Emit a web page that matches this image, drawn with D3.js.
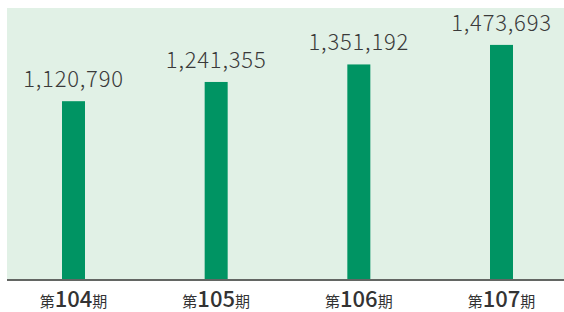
<!DOCTYPE html>
<html><head><meta charset="utf-8">
<script src="https://cdn.jsdelivr.net/npm/d3@7/dist/d3.min.js"></script>
<style>body{margin:0;background:#fff;}svg{display:block;}</style>
</head><body>
<svg id="c" width="564" height="312"></svg>
<script>
const categories = ["104", "105", "106", "107"];
const values = [1120790, 1241355, 1351192, 1473693];
const prefix = "第";
const suffix = "期";

const svg = d3.select("#c");
const plot = {left: 7, right: 564, top: 8, bottom: 280};

const x = d3.scalePoint().domain(categories).range([73.5, 501.5]);
const y = d3.scaleLinear().domain([0, 1705000]).range([plot.bottom, plot.top]);
const barW = 23;

svg.append("rect").attr("x", plot.left).attr("y", plot.top)
  .attr("width", plot.right - plot.left).attr("height", plot.bottom - plot.top)
  .attr("fill", "#e1f1e6");

svg.selectAll("rect.bar").data(values).enter().append("rect").attr("class","bar")
  .attr("x", (d,i) => x(categories[i]) - barW/2)
  .attr("y", d => y(d))
  .attr("width", barW)
  .attr("height", d => y(0) - y(d))
  .attr("fill", "#009463");

svg.selectAll("text.val").data(values).enter().append("text").attr("class","val")
  .attr("x", (d,i) => x(categories[i]))
  .attr("y", d => y(d) - 14)
  .attr("text-anchor", "middle")
  .attr("font-family", "'Noto Sans CJK JP', 'Noto Sans', sans-serif")
  .attr("font-weight", 300)
  .attr("font-size", 22)
  .attr("letter-spacing", 0.8)
  .attr("fill", "#3a3a3a")
  .text(d => d3.format(",")(d));

svg.append("line").attr("x1", plot.left).attr("x2", plot.right)
  .attr("y1", plot.bottom).attr("y2", plot.bottom)
  .attr("stroke", "#636663").attr("stroke-width", 2);

const lab = svg.selectAll("text.cat").data(categories).enter().append("text").attr("class","cat")
  .attr("x", d => x(d))
  .attr("y", 307)
  .attr("text-anchor", "middle")
  .attr("font-family", "'Noto Sans CJK JP', 'Noto Sans', sans-serif")
  .attr("fill", "#333");
lab.append("tspan").attr("font-size", 15).text(prefix);
lab.append("tspan").attr("font-size", 22).attr("font-weight", 500).text(d => d);
lab.append("tspan").attr("font-size", 15).text(suffix);
</script>
</body></html>
